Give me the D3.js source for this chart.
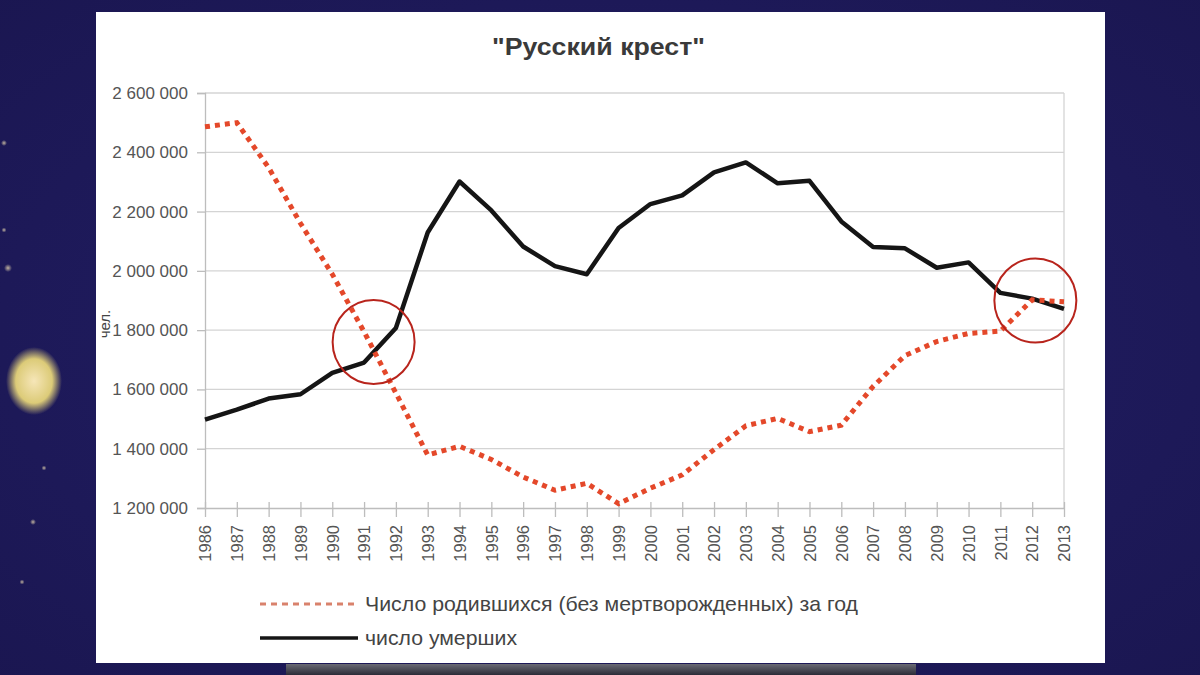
<!DOCTYPE html>
<html>
<head>
<meta charset="utf-8">
<script src="https://cdn.jsdelivr.net/npm/d3@7"></script>
<style>
html,body{margin:0;padding:0;background:#1f1b5d;}
svg{display:block;}
</style>
</head>
<body>
<svg id="chart" width="1200" height="675"></svg>
<script>
const years = [1986,1987,1988,1989,1990,1991,1992,1993,1994,1995,1996,1997,1998,1999,2000,2001,2002,2003,2004,2005,2006,2007,2008,2009,2010,2011,2012,2013];
const births = [2485915,2499974,2348494,2160559,1988858,1794626,1587644,1378983,1408159,1363806,1304638,1259943,1283292,1214689,1266800,1311604,1396967,1477301,1502477,1457376,1479637,1610122,1713947,1761687,1788948,1796629,1902084,1895822];
const deaths = [1497975,1531585,1569112,1583743,1655993,1690657,1807441,2129339,2301366,2203811,2082249,2015779,1988744,2144316,2225332,2254856,2332272,2365826,2295402,2303935,2166703,2080445,2075954,2010543,2028516,1925720,1906335,1871809];
const yTicks = [1200000,1400000,1600000,1800000,2000000,2200000,2400000,2600000];
const title = '"Русский крест"';
const yLabel = "чел.";
const legendBirths = "Число родившихся (без мертворожденных) за год";
const legendDeaths = "число умерших";
const crossYears = [1991.3, 2012.1];
const crossValues = [1760000, 1900000];

const FONT = "Liberation Sans, Arial, sans-serif";
const svg = d3.select("#chart");
const defs = svg.append("defs");
const bg = defs.append("radialGradient").attr("id","bgGrad").attr("cx","50%").attr("cy","50%").attr("r","75%");
bg.append("stop").attr("offset","0%").attr("stop-color","#231f68");
bg.append("stop").attr("offset","100%").attr("stop-color","#1a1650");
const glow = defs.append("radialGradient").attr("id","glow");
glow.append("stop").attr("offset","0%").attr("stop-color","#f6e6b8");
glow.append("stop").attr("offset","65%").attr("stop-color","#dccb78");
glow.append("stop").attr("offset","100%").attr("stop-color","#dccb78").attr("stop-opacity",0);
const spark = defs.append("radialGradient").attr("id","spark");
spark.append("stop").attr("offset","0%").attr("stop-color","#e8d8b0").attr("stop-opacity",0.8);
spark.append("stop").attr("offset","100%").attr("stop-color","#e8d8b0").attr("stop-opacity",0);
const strip = defs.append("linearGradient").attr("id","strip").attr("x1",0).attr("x2",0).attr("y1",0).attr("y2",1);
strip.append("stop").attr("offset","0%").attr("stop-color","#6a6a74");
strip.append("stop").attr("offset","100%").attr("stop-color","#2c2c38");

svg.append("rect").attr("width",1200).attr("height",675).attr("fill","url(#bgGrad)");
svg.append("ellipse").attr("cx",34).attr("cy",381).attr("rx",28).attr("ry",34).attr("fill","url(#glow)");
[[8,268,4],[4,143,3],[33,522,3],[44,468,2.5],[4,230,2.5],[22,582,2.5]].forEach(s=>{
  svg.append("circle").attr("cx",s[0]).attr("cy",s[1]).attr("r",s[2]).attr("fill","url(#spark)");
});
svg.append("rect").attr("x",286).attr("y",664).attr("width",630).attr("height",11).attr("fill","url(#strip)");

// white panel
svg.append("rect").attr("x",96).attr("y",12).attr("width",1009).attr("height",651).attr("fill","#ffffff");

const x = d3.scalePoint().domain(years).range([205,1064]);
const y = d3.scaleLinear().domain([1200000,2600000]).range([508,93]);
const fmt = v => d3.format(",")(v).replace(/,/g," ");

// grid
svg.append("g").selectAll("line").data(yTicks.slice(1)).join("line")
  .attr("x1",205).attr("x2",1064).attr("y1",d=>y(d)).attr("y2",d=>y(d))
  .attr("stroke","#d4d4d4").attr("stroke-width",1.3);
svg.append("line").attr("x1",1064).attr("x2",1064).attr("y1",93).attr("y2",508).attr("stroke","#d4d4d4").attr("stroke-width",1.3);

// y axis
const yAxis = svg.append("g").attr("transform","translate(205,0)")
  .call(d3.axisLeft(y).tickValues(yTicks).tickFormat(fmt).tickSize(8).tickPadding(9));
yAxis.select(".domain").attr("stroke","#bdbdbd").attr("stroke-width",1.3);
yAxis.selectAll(".tick line").attr("stroke","#bdbdbd").attr("stroke-width",1.3);
yAxis.selectAll("text").attr("font-family",FONT).attr("font-size",17).attr("fill","#555");

// x axis
const xAxis = svg.append("g").attr("transform","translate(0,508)")
  .call(d3.axisBottom(x).tickSizeInner(9).tickSizeOuter(0).tickPadding(10));
xAxis.select(".domain").attr("stroke","#bdbdbd").attr("stroke-width",1.3);
xAxis.selectAll(".tick line").attr("stroke","#bdbdbd").attr("stroke-width",1.3).attr("y1",-6);
xAxis.selectAll("text").attr("font-family",FONT).attr("font-size",16.5).attr("fill","#555")
  .attr("transform","rotate(-90)").attr("text-anchor","end").attr("dx","-17").attr("dy","0.35em").attr("y",0);

// series
const line = d3.line().x((d,i)=>x(years[i])).y(d=>y(d));
svg.append("path").datum(deaths).attr("d",line).attr("fill","none").attr("stroke","#151515").attr("stroke-width",4.5).attr("stroke-linejoin","round");
svg.append("path").datum(births).attr("d",line).attr("fill","none").attr("stroke","#e4482a").attr("stroke-width",5).attr("stroke-dasharray","5 5");

// circles
svg.append("g").selectAll("ellipse").data(crossYears).join("ellipse")
  .attr("cx",(d)=>205+(d-1986)*(x(1987)-x(1986)))
  .attr("cy",(d,i)=>y(crossValues[i]))
  .attr("rx",41).attr("ry",42)
  .attr("fill","none").attr("stroke","#b8241c").attr("stroke-width",2);

// title
svg.append("text").attr("x",492).attr("y",55)
  .attr("font-family",FONT).attr("font-weight","bold").attr("font-size",24).attr("fill","#3a3a3a")
  .attr("textLength",213).attr("lengthAdjust","spacingAndGlyphs").text(title);

// y label
svg.append("text").attr("transform","translate(110,324) rotate(-90)").attr("text-anchor","middle")
  .attr("font-family",FONT).attr("font-size",15).attr("fill","#444").text(yLabel);

// legend
const lg = svg.append("g");
lg.append("line").attr("x1",260).attr("x2",358).attr("y1",604).attr("y2",604).attr("stroke","#d9826c").attr("stroke-width",3).attr("stroke-dasharray","6 5");
lg.append("text").attr("x",365).attr("y",611).attr("font-family",FONT).attr("font-size",21).attr("fill","#444")
  .attr("textLength",493).attr("lengthAdjust","spacingAndGlyphs").text(legendBirths);
lg.append("line").attr("x1",260).attr("x2",358).attr("y1",638).attr("y2",638).attr("stroke","#151515").attr("stroke-width",3.5);
lg.append("text").attr("x",365).attr("y",645).attr("font-family",FONT).attr("font-size",21).attr("fill","#444")
  .attr("textLength",152).attr("lengthAdjust","spacingAndGlyphs").text(legendDeaths);
</script>
</body>
</html>
